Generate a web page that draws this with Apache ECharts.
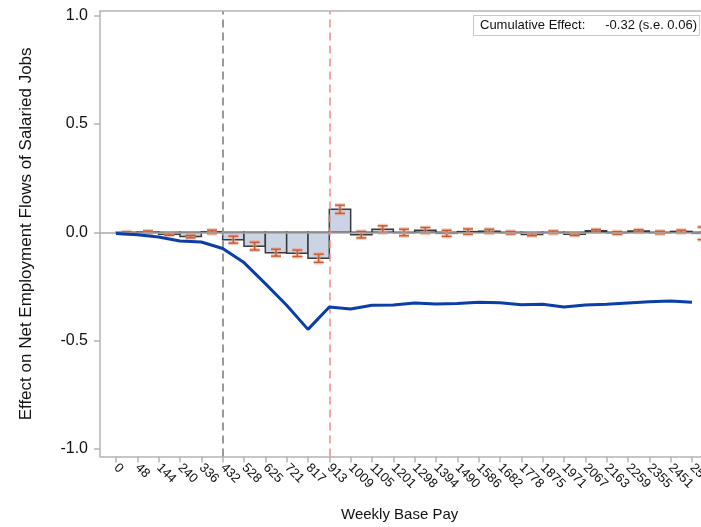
<!DOCTYPE html>
<html><head><meta charset="utf-8">
<script src="https://cdn.jsdelivr.net/npm/echarts@6/dist/echarts.min.js"></script>
<style>html,body{margin:0;padding:0;background:#fff}#c{width:701px;height:527px}</style>
</head><body><div id="c"></div>
<script>
// Bin edges shown as tick labels (Weekly Base Pay)
const tickLabels = ['0','48','144','240','336','432','528','625','721','817','913','1009','1105','1201','1298','1394','1490','1586','1682','1778','1875','1971','2067','2163','2259','2355','2451','2500'];
// Effect per bin (bar heights), bin i spans tick i .. tick i+1
const binEffects = [-0.002,0.001,-0.009,-0.020,0.002,-0.034,-0.064,-0.094,-0.097,-0.120,0.106,-0.011,0.014,-0.001,0.009,-0.005,0.003,0.005,-0.002,-0.010,0.000,-0.009,0.007,-0.003,0.006,-0.001,0.004,-0.005];
// Half-width of the error bars
const binErrors = [0.004,0.005,0.005,0.006,0.008,0.016,0.018,0.016,0.015,0.019,0.019,0.015,0.016,0.015,0.013,0.014,0.012,0.009,0.006,0.006,0.006,0.006,0.006,0.006,0.006,0.006,0.006,0.029];
// Cumulative effect at each tick (blue line)
const cumulative = [-0.006,-0.011,-0.022,-0.040,-0.045,-0.075,-0.140,-0.237,-0.337,-0.448,-0.345,-0.354,-0.337,-0.336,-0.326,-0.331,-0.329,-0.323,-0.325,-0.334,-0.332,-0.345,-0.336,-0.332,-0.326,-0.321,-0.317,-0.323];
const yTicks = [-1, -0.5, 0, 0.5, 1];
const xTicks = tickLabels.map((_, i) => i);
const lowerThreshold = 5;   // 432
const upperThreshold = 10;  // 913

const FONT = "'Liberation Sans', Arial, sans-serif";
const AXIS_GRAY = '#b4b4b4';

const chart = echarts.init(document.getElementById('c'), null, {renderer: 'canvas'});

const option = {
  backgroundColor: '#fff',
  animation: false,
  grid: {left: 100, top: 11.2, width: 613.3, height: 445.4, containLabel: false, outerBoundsMode: 'none'},
  xAxis: [{
    type: 'value', min: -0.75, max: 28, position: 'bottom',
    splitLine: {show: false},
    axisLine: {show: true, onZero: false, lineStyle: {color: AXIS_GRAY, width: 1.5}},
    axisTick: {show: true, customValues: xTicks, length: 6, lineStyle: {color: AXIS_GRAY, width: 1.5}},
    axisLabel: {show: true, customValues: xTicks, rotate: -45, margin: 9, hideOverlap: false,
      formatter: v => tickLabels[Math.round(v)] ?? '',
      fontFamily: FONT, fontSize: 13, color: '#111'}
  }, {
    type: 'value', min: -0.75, max: 28, position: 'top',
    splitLine: {show: false},
    axisLine: {show: true, onZero: false, lineStyle: {color: AXIS_GRAY, width: 1.5}},
    axisTick: {show: false}, axisLabel: {show: false}
  }],
  yAxis: {
    type: 'value', min: -1.035, max: 1.02,
    splitLine: {show: false},
    axisLine: {show: true, onZero: false, lineStyle: {color: AXIS_GRAY, width: 1.5}},
    axisTick: {show: true, customValues: yTicks, length: 6, lineStyle: {color: AXIS_GRAY, width: 1.5}},
    axisLabel: {show: true, customValues: yTicks, margin: 12,
      formatter: v => v.toFixed(1), fontFamily: FONT, fontSize: 16, color: '#111'},
    name: 'Effect on Net Employment Flows of Salaried Jobs',
    nameLocation: 'middle', nameGap: 65, nameRotate: 90,
    nameTextStyle: {fontFamily: FONT, fontSize: 17, color: '#111'}
  },
  series: [
    {
      type: 'custom', name: 'bins', z: 2,
      data: binEffects.map((v, i) => [i, v]),
      renderItem: (params, api) => {
        const i = api.value(0), v = api.value(1);
        const a = api.coord([i, v]);
        const b = api.coord([i + 1, 0]);
        return {
          type: 'rect',
          shape: {x: a[0], y: Math.min(a[1], b[1]), width: b[0] - a[0], height: Math.max(Math.abs(b[1] - a[1]), 0.5)},
          style: {fill: '#cad4e4', stroke: '#3a3a3a', lineWidth: 1.5}
        };
      }
    },
    {
      type: 'line', name: 'zero', z: 3, data: [], silent: true,
      markLine: {
        silent: true, symbol: 'none', label: {show: false}, animation: false,
        data: [
          {yAxis: 0, lineStyle: {color: '#a9a9a9', width: 1.5, type: 'solid'}},
          {xAxis: lowerThreshold, lineStyle: {color: '#9a9a9a', width: 2, type: [8, 5]}},
          {xAxis: upperThreshold, lineStyle: {color: '#f08a8a', width: 1.5, type: [8, 5]}}
        ]
      }
    },
    {
      type: 'custom', name: 'errors', z: 4,
      data: binEffects.map((v, i) => [i, v - binErrors[i], v + binErrors[i]]),
      renderItem: (params, api) => {
        const i = api.value(0);
        const lo = api.coord([i + 0.5, api.value(1)]);
        const hi = api.coord([i + 0.5, api.value(2)]);
        const x = lo[0], hw = 5;
        const mk = (stroke, lw) => ([
          {type: 'line', shape: {x1: x, y1: lo[1], x2: x, y2: hi[1]}, style: {stroke, lineWidth: lw}},
          {type: 'line', shape: {x1: x - hw, y1: lo[1], x2: x + hw, y2: lo[1]}, style: {stroke, lineWidth: lw}},
          {type: 'line', shape: {x1: x - hw, y1: hi[1], x2: x + hw, y2: hi[1]}, style: {stroke, lineWidth: lw}}
        ]);
        return {type: 'group', children: mk('rgba(235,160,130,0.55)', 4).concat(mk('#c9582f', 1.4))};
      }
    },
    {
      type: 'line', name: 'cumulative', z: 5,
      data: cumulative.map((v, i) => [i, v]),
      showSymbol: false, symbol: 'none',
      lineStyle: {color: '#0b3ea6', width: 3},
      silent: true
    }
  ],
  graphic: [
    {type: 'text', left: 400 - 59, top: 507,
      style: {text: 'Weekly Base Pay', fontFamily: FONT, fontSize: 15, fill: '#111'}},
    {type: 'rect', shape: {x: 473.5, y: 15.5, width: 226, height: 20},
      style: {fill: '#fff', stroke: '#c8c8c8', lineWidth: 1}, z: 10},
    {type: 'text', x: 480, y: 25.5, z: 11,
      style: {text: 'Cumulative Effect:', fontFamily: FONT, fontSize: 13, fill: '#111', textVerticalAlign: 'middle', textAlign: 'left'}},
    {type: 'text', x: 697, y: 25.5, z: 11,
      style: {text: '-0.32 (s.e. 0.06)', fontFamily: FONT, fontSize: 13, fill: '#111', textVerticalAlign: 'middle', textAlign: 'right'}}
  ]
};
chart.setOption(option);
</script>
</body></html>
